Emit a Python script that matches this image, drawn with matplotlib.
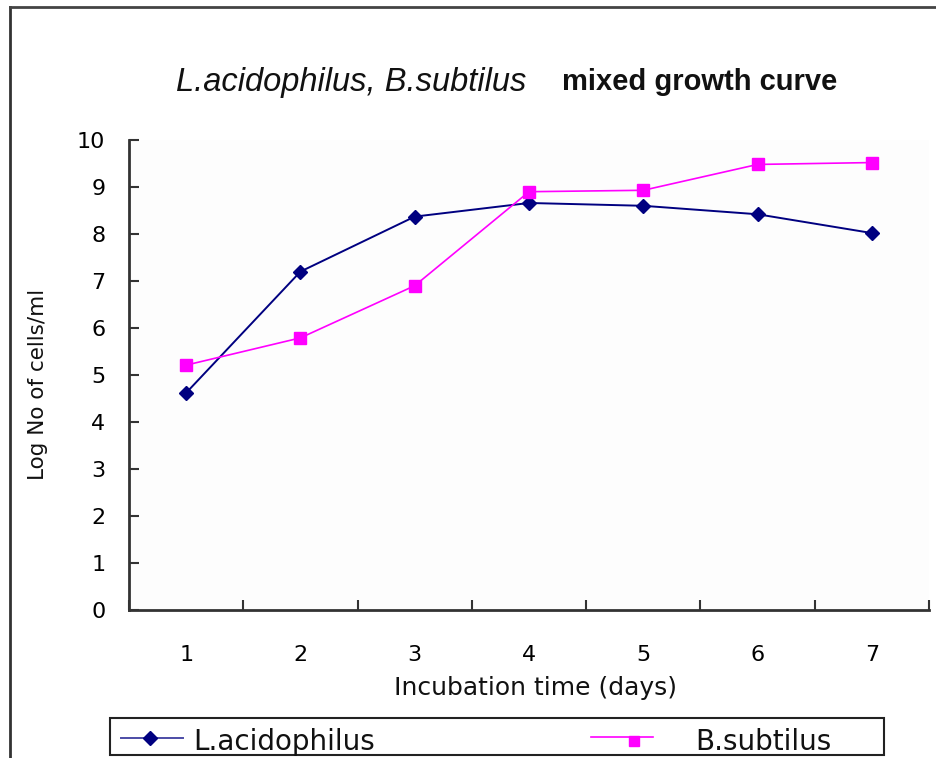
import matplotlib
matplotlib.use("Agg")
import matplotlib.pyplot as plt
from matplotlib.lines import Line2D
from matplotlib.patches import Rectangle

# ---- data ----
days = [1, 2, 3, 4, 5, 6, 7]
day_labels = ["1", "2", "3", "4", "5", "6", "7"]
l_acidophilus = [4.62, 7.20, 8.37, 8.66, 8.60, 8.42, 8.02]
b_subtilus = [5.21, 5.79, 6.90, 8.90, 8.93, 9.48, 9.52]
y_ticks = [0, 1, 2, 3, 4, 5, 6, 7, 8, 9, 10]
series_names = ["L.acidophilus", "B.subtilus"]

W, H = 936, 758
fig = plt.figure(figsize=(W / 100, H / 100), dpi=100)
fig.patch.set_facecolor("white")

def px(x, y):
    return x / W, 1 - y / H

# outer chart frame (cut off at right / bottom in reference)
fig.add_artist(Line2D([10 / W, 10 / W], [1 - 7 / H, 0], transform=fig.transFigure,
                      color="#333333", lw=2))
fig.add_artist(Line2D([10 / W, 1], [1 - 7 / H, 1 - 7 / H], transform=fig.transFigure,
                      color="#444444", lw=2))

left, right, top, bottom = 129, 929, 140, 610
ax = fig.add_axes([left / W, 1 - bottom / H, (right - left) / W, (bottom - top) / H])
ax.set_facecolor("#fdfdfd")

navy = "#000080"
magenta = "#FF00FF"
ax.plot(days, l_acidophilus, color=navy, lw=1.4, marker="D", markersize=7,
        markerfacecolor=navy, markeredgecolor=navy, zorder=3)
ax.plot(days, b_subtilus, color=magenta, lw=1.2, marker="s", markersize=8,
        markerfacecolor=magenta, markeredgecolor=magenta, zorder=3)

ax.set_xlim(0.5, 7.5)
ax.set_ylim(0, 10)
ax.set_yticks(y_ticks)
ax.set_yticklabels([str(v) for v in y_ticks], fontsize=16, family="DejaVu Sans")
ax.set_xticks([i + 0.5 for i in range(0, 8)])
ax.set_xticklabels([])
ax.set_xticks(days, minor=True)
ax.set_xticklabels(day_labels, minor=True, fontsize=16, family="DejaVu Sans")
ax.tick_params(axis="x", which="major", direction="in", length=7, width=1.5, color="#333333")
ax.tick_params(axis="x", which="minor", length=0, pad=25)
ax.tick_params(axis="y", direction="in", length=7, width=1.5, color="#333333", pad=17)
for s in ["top", "right"]:
    ax.spines[s].set_visible(False)
for s in ["left", "bottom"]:
    ax.spines[s].set_color("#333333")
    ax.spines[s].set_linewidth(2)

# axis labels
fig.text(*px(535, 688), "Incubation time (days)", ha="center", va="center",
         fontsize=18, family="DejaVu Sans", color="#111111")
fig.text(*px(38, 384), "Log No of cells/ml", ha="center", va="center", rotation=90,
         fontsize=15.5, family="DejaVu Sans", color="#111111")

# title
fig.text(*px(526, 82), "L.acidophilus, B.subtilus", ha="right", va="center",
         fontsize=23.5, style="italic", family=["Liberation Sans Narrow", "Liberation Sans"],
         color="#111111")
fig.text(*px(562, 82), "mixed growth curve", ha="left", va="center",
         fontsize=21, weight="bold", family=["Liberation Sans Narrow", "Liberation Sans"],
         color="#111111")

# legend box (cut off at the bottom in reference)
fig.add_artist(Rectangle(px(110, 755), (884 - 110) / W, (755 - 718) / H,
                         transform=fig.transFigure, fill=False, edgecolor="#222222", lw=1.5))
fig.add_artist(Line2D([121 / W, 183 / W], [1 - 738 / H] * 2, transform=fig.transFigure,
                      color=navy, lw=1.4, alpha=0.7))
fig.add_artist(Line2D([150 / W], [1 - 738 / H], transform=fig.transFigure,
                      color=navy, marker="D", markersize=7, lw=0))
fig.text(*px(193, 750), series_names[0], ha="left", va="baseline", fontsize=20,
         family="DejaVu Sans", color="#111111")
fig.add_artist(Line2D([591 / W, 653 / W], [1 - 737 / H] * 2, transform=fig.transFigure,
                      color=magenta, lw=1.2))
fig.add_artist(Line2D([634 / W], [1 - 741 / H], transform=fig.transFigure,
                      color=magenta, marker="s", markersize=7, lw=0))
fig.text(*px(695, 750), series_names[1], ha="left", va="baseline", fontsize=20,
         family="DejaVu Sans", color="#111111")

fig.savefig("out.png", dpi=100)
